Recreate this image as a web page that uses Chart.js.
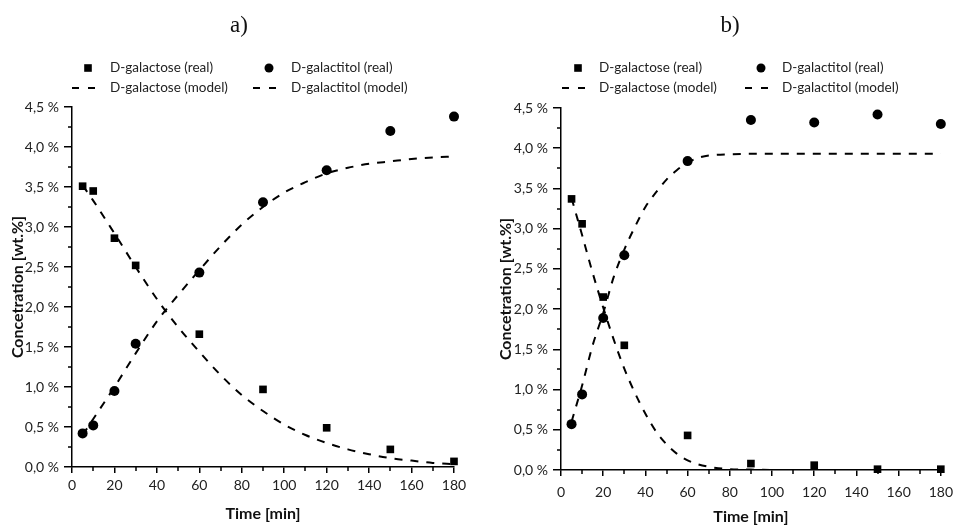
<!DOCTYPE html>
<html><head><meta charset="utf-8">
<script src="https://cdn.jsdelivr.net/npm/chart.js@4"></script>
<style>
html,body{margin:0;padding:0;background:#fff;}
#wrap{position:relative;width:961px;height:526px;overflow:hidden;}
.box{position:absolute;top:0;height:526px;}
#boxA{left:0;width:480px;}
#boxB{left:480px;width:481px;}
</style></head><body>
<div id="wrap"><div class="box" id="boxA"><canvas id="cA"></canvas></div><div class="box" id="boxB"><canvas id="cB"></canvas></div></div>
<script>
// ---- data ----
const times = [5, 10, 20, 30, 60, 90, 120, 150, 180];
const galactoseRealA  = [3.51, 3.45, 2.86, 2.52, 1.66, 0.97, 0.49, 0.22, 0.07];
const galactitolRealA = [0.42, 0.52, 0.95, 1.54, 2.43, 3.31, 3.71, 4.20, 4.38];
const galactoseRealB  = [3.37, 3.06, 2.15, 1.55, 0.43, 0.08, 0.06, 0.01, 0.01];
const galactitolRealB = [0.57, 0.94, 1.89, 2.67, 3.84, 4.35, 4.32, 4.42, 4.30];

const modelTimesA = [5, 10, 20, 30, 40, 50, 60, 70, 80, 90, 100, 110, 120, 130, 140, 150, 160, 170, 180];
const galactoseModelA  = [3.52, 3.33, 2.92, 2.50, 2.10, 1.75, 1.44, 1.15, 0.90, 0.70, 0.53, 0.40, 0.30, 0.22, 0.16, 0.11, 0.08, 0.05, 0.035];
const galactitolModelA = [0.40, 0.60, 1.00, 1.42, 1.82, 2.15, 2.46, 2.76, 3.03, 3.25, 3.43, 3.56, 3.67, 3.74, 3.79, 3.82, 3.85, 3.87, 3.88];

const modelTimesB = [5, 10, 15, 20, 25, 30, 35, 40, 45, 50, 55, 60, 65, 70, 80, 90, 100, 120, 140, 160, 180];
const galactoseModelB  = [3.38, 2.92, 2.45, 2.02, 1.62, 1.26, 0.96, 0.70, 0.48, 0.32, 0.20, 0.12, 0.07, 0.04, 0.01, 0.005, 0, 0, 0, 0, 0];
const galactitolModelB = [0.60, 1.05, 1.55, 1.95, 2.40, 2.74, 3.02, 3.27, 3.45, 3.61, 3.73, 3.82, 3.88, 3.91, 3.925, 3.93, 3.93, 3.93, 3.93, 3.93, 3.93];

const seriesNames = ['D-galactose (real)', 'D-galactitol (real)', 'D-galactose (model)', 'D-galactitol (model)'];
const panelTitles = ['a)', 'b)'];
const yTicksMax = 4.5, xTicksMax = 180;

function pts(xs, ys){ return xs.map((x,i)=>({x:x, y:ys[i]})); }

const FONT = 'Lato, "Open Sans", sans-serif';

function makeDatasets(gR, tR, gM, tM, mt){
  const lineStyle = {showLine:true, pointRadius:0, borderColor:'#000', borderWidth:2, borderDash:[8,8], cubicInterpolationMode:'monotone', fill:false};
  return [
    Object.assign({label:seriesNames[2], data:pts(mt,gM), order:3}, lineStyle),
    Object.assign({label:seriesNames[3], data:pts(mt,tM), order:3}, lineStyle),
    {label:seriesNames[0], data:pts(times,gR), pointStyle:'rect', pointRadius:5.4, backgroundColor:'#000', borderColor:'#000', borderWidth:0, showLine:false, order:1, clip:false},
    {label:seriesNames[1], data:pts(times,tR), pointStyle:'circle', pointRadius:5, backgroundColor:'#000', borderColor:'#000', borderWidth:0, showLine:false, order:1, clip:false}
  ];
}

function decoPlugin(cfg){
  return {
    id:'deco',
    afterDraw(chart){
      const ctx = chart.ctx;
      ctx.save();
      // minor ticks
      const xs = chart.scales.x, ys = chart.scales.y;
      ctx.strokeStyle = '#000'; ctx.lineWidth = 1.5;
      for(let v=10; v<xTicksMax; v+=20){
        const px = Math.round(xs.getPixelForValue(v));
        ctx.beginPath(); ctx.moveTo(px, ys.bottom); ctx.lineTo(px, ys.bottom+4); ctx.stroke();
      }
      for(let v=0.25; v<yTicksMax; v+=0.5){
        const py = Math.round(ys.getPixelForValue(v));
        ctx.beginPath(); ctx.moveTo(xs.left, py); ctx.lineTo(xs.left-4, py); ctx.stroke();
      }
      // panel title
      ctx.fillStyle = '#111';
      ctx.font = '23px "Liberation Serif", "DejaVu Serif", serif';
      ctx.textAlign = 'center'; ctx.textBaseline = 'middle';
      ctx.fillText(cfg.title, cfg.titleX, cfg.titleY);
      // legend
      ctx.font = '13.5px ' + FONT;
      ctx.textAlign = 'left';
      ctx.fillStyle = '#222';
      const ds = chart.data.datasets;
      const items = [
        {kind:'rect', label:ds[2].label, mx:cfg.c1m, tx:cfg.c1t, y:cfg.r1},
        {kind:'circle', label:ds[3].label, mx:cfg.c2m, tx:cfg.c2t, y:cfg.r1},
        {kind:'dash', label:ds[0].label, mx:cfg.c1m, tx:cfg.c1t, y:cfg.r2},
        {kind:'dash', label:ds[1].label, mx:cfg.c2m, tx:cfg.c2t, y:cfg.r2}
      ];
      items.forEach(it=>{
        ctx.fillStyle = '#000';
        if(it.kind==='rect'){ ctx.fillRect(it.mx-3.8, it.y-3.8, 7.6, 7.6); }
        else if(it.kind==='circle'){ ctx.beginPath(); ctx.arc(it.mx, it.y, 4.5, 0, Math.PI*2); ctx.fill(); }
        else { ctx.fillRect(it.mx-16, it.y-1, 7, 2); ctx.fillRect(it.mx+0, it.y-1, 7, 2); }
        ctx.fillStyle = '#222';
        ctx.fillText(it.label, it.tx, it.y);
      });
      ctx.restore();
    }
  };
}

function makeChart(id, datasets, cfg){
  new Chart(document.getElementById(id), {
    type:'scatter',
    data:{datasets:datasets},
    plugins:[decoPlugin(cfg)],
    options:{
      responsive:true, maintainAspectRatio:false, animation:false,
      layout:{padding:{left:0, right:cfg.padRight, top:cfg.padTop, bottom:0}},
      plugins:{legend:{display:false}, tooltip:{enabled:false}, title:{display:false}},
      scales:{
        x:{
          type:'linear', min:0, max:xTicksMax,
          afterFit(s){ s.height = cfg.xH; },
          border:{display:true, color:'#000', width:1.5},
          grid:{display:true, drawOnChartArea:false, drawTicks:true, tickLength:6, color:'#000', lineWidth:1.5},
          ticks:{stepSize:20, color:'#222', font:{family:FONT, size:14}, padding:cfg.xTickPad, maxRotation:0},
          title:{display:true, text:'Time [min]', color:'#111', font:{family:FONT, size:16, weight:'bold'}, padding:{top:0, bottom:cfg.xTitlePad}}
        },
        y:{
          type:'linear', min:0, max:yTicksMax,
          afterFit(s){ s.width = cfg.yW; },
          border:{display:true, color:'#000', width:1.5},
          grid:{display:true, drawOnChartArea:false, drawTicks:true, tickLength:8, color:'#000', lineWidth:1.5},
          ticks:{stepSize:0.5, color:'#222', font:{family:FONT, size:14}, padding:5,
                 callback:v=>v.toFixed(1).replace('.', ',') + ' %'},
          title:{display:true, text:'Concetration [wt.%]', color:'#111', font:{family:FONT, size:16, weight:'bold'}, padding:{top:cfg.yTitlePad, bottom:0}}
        }
      }
    }
  });
}

makeChart('cA', makeDatasets(galactoseRealA, galactitolRealA, galactoseModelA, galactitolModelA, modelTimesA),
  {title:panelTitles[0], titleX:239, titleY:26, c1m:88, c1t:110, c2m:269, c2t:291, r1:68, r2:88,
   padRight:26, padTop:107, xH:59, yW:72, xTickPad:4, xTitlePad:3, yTitlePad:8});
makeChart('cB', makeDatasets(galactoseRealB, galactitolRealB, galactoseModelB, galactitolModelB, modelTimesB),
  {title:panelTitles[1], titleX:250, titleY:26, c1m:98, c1t:119, c2m:281, c2t:302, r1:68, r2:88,
   padRight:13, padTop:108, xH:56, yW:81, xTickPad:8, xTitlePad:0, yTitlePad:16});
</script>
</body></html>
